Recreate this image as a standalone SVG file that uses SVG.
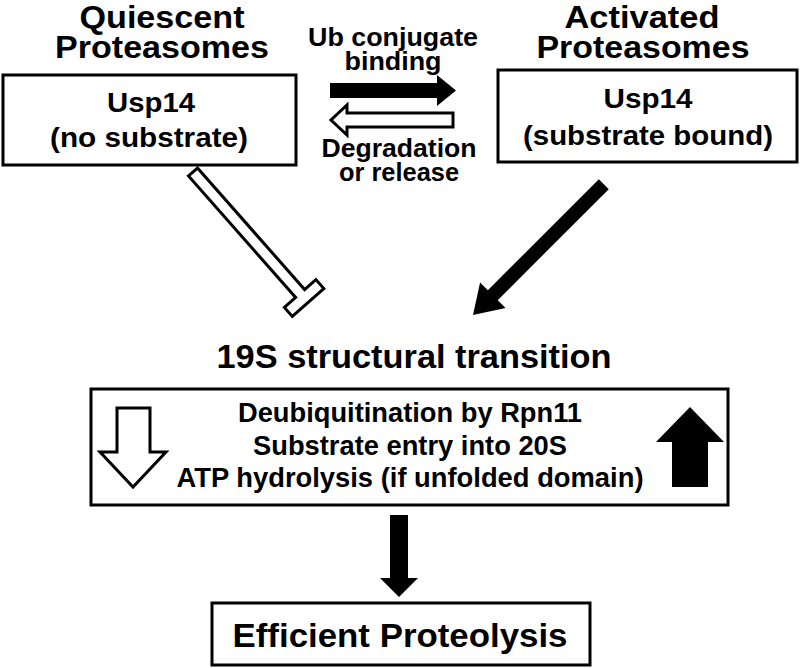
<svg xmlns="http://www.w3.org/2000/svg" width="800" height="668" viewBox="0 0 800 668">
<style>
text{font-family:"Liberation Sans",Arial,sans-serif;font-weight:bold;fill:#000;text-anchor:middle}
.t{font-size:32px}
.b{font-size:28px}
.m{font-size:25px}
.s{font-size:27px}
.box{fill:#fff;stroke:#000;stroke-width:3}
.blk{fill:#000;stroke:none}
.wht{fill:#fff;stroke:#000;stroke-width:3;stroke-linejoin:miter}
</style>
<rect width="800" height="668" fill="#fff"/>
<g id="quiescent">
<text class="t" x="162" y="28" textLength="165" lengthAdjust="spacingAndGlyphs">Quiescent</text>
<text class="t" x="162" y="58" textLength="214" lengthAdjust="spacingAndGlyphs">Proteasomes</text>
<rect class="box" x="3" y="75" width="293" height="90"/>
<text class="b" x="151" y="112" textLength="88" lengthAdjust="spacingAndGlyphs">Usp14</text>
<text class="b" x="149" y="147" textLength="198" lengthAdjust="spacingAndGlyphs">(no substrate)</text>
</g>
<g id="activated">
<text class="t" x="642" y="28" textLength="155" lengthAdjust="spacingAndGlyphs">Activated</text>
<text class="t" x="643" y="58" textLength="213" lengthAdjust="spacingAndGlyphs">Proteasomes</text>
<rect class="box" x="498" y="70" width="299" height="92"/>
<text class="b" x="648" y="108" textLength="89" lengthAdjust="spacingAndGlyphs">Usp14</text>
<text class="b" x="648" y="145" textLength="250" lengthAdjust="spacingAndGlyphs">(substrate bound)</text>
</g>
<g id="transition">
<text x="414" y="368" style="font-size:33px" textLength="395" lengthAdjust="spacingAndGlyphs">19S structural transition</text>
</g>
<g id="effects">
<rect class="box" x="91" y="389" width="637" height="116"/>
<text class="s" x="410" y="422" textLength="344" lengthAdjust="spacingAndGlyphs">Deubiquitination by Rpn11</text>
<text class="s" x="410" y="455" textLength="314" lengthAdjust="spacingAndGlyphs">Substrate entry into 20S</text>
<text class="s" x="410" y="487" textLength="467" lengthAdjust="spacingAndGlyphs">ATP hydrolysis (if unfolded domain)</text>
<polygon class="wht" points="117,408 150,408 150,452 166,452 133,487 100,452 117,452"/>
<polygon class="blk" points="690,407 724,442 708,442 708,487 672,487 672,442 656,442"/>
</g>
<g id="proteolysis">
<rect class="box" x="212" y="603" width="378" height="62"/>
<text style="font-size:33px" x="400" y="647" textLength="335" lengthAdjust="spacingAndGlyphs">Efficient Proteolysis</text>
</g>
<g id="connectors">
<text class="m" x="393" y="46" textLength="170" lengthAdjust="spacingAndGlyphs">Ub conjugate</text>
<text class="m" x="393" y="70" textLength="97" lengthAdjust="spacingAndGlyphs">binding</text>
<polygon class="blk" points="330,83 437,83 437,75 456,90.5 437,106 437,98 330,98"/>
<polygon class="wht" points="453,113 347,113 347,105 331,120 347,135 347,127 453,127"/>
<text class="m" x="399" y="157" textLength="155" lengthAdjust="spacingAndGlyphs">Degradation</text>
<text class="m" x="399" y="181" textLength="120" lengthAdjust="spacingAndGlyphs">or release</text>
<path class="wht" transform="translate(193,172) rotate(48.6)" d="M0,-6 L162,-6 L162,-21 L174,-21 L174,21 L162,21 L162,6 L0,6 Z"/>
<polygon class="blk" transform="translate(473,315) rotate(-45)" points="0,0 28,-18 28,-7 185,-7 185,7 28,7 28,18"/>
<polygon class="blk" points="390,515 408,515 408,578 418,578 399,597 380,578 390,578"/>
</g>
</svg>
